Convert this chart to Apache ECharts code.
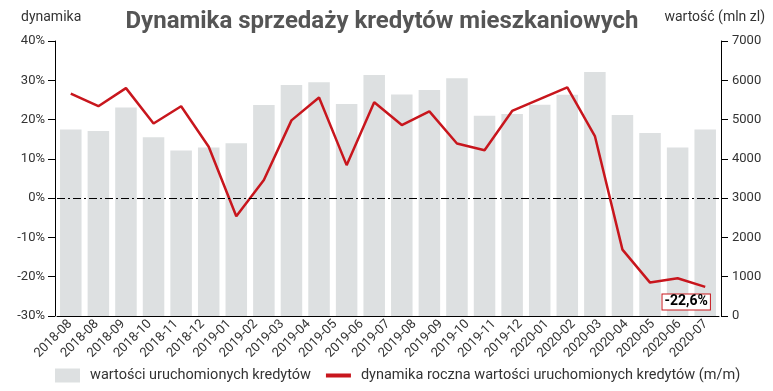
<!DOCTYPE html>
<html>
<head>
<meta charset="utf-8">
<script src="https://cdn.jsdelivr.net/npm/echarts@6/dist/echarts.min.js"></script>
<style>html,body{margin:0;padding:0;background:#fff}#c{width:773px;height:391px}</style>
</head>
<body>
<div id="c"></div>
<script>
const categories = ['2018-08','2018-09','2018-10','2018-11','2018-12','2019-01','2019-02','2019-03','2019-04','2019-05','2019-06','2019-07','2019-08','2019-09','2019-10','2019-11','2019-12','2020-01','2020-02','2020-03','2020-04','2020-05','2020-06','2020-07'];
const tickLabels = ['2018-08','2018-08','2018-09','2018-10','2018-11','2018-12','2019-01','2019-02','2019-03','2019-04','2019-05','2019-06','2019-07','2019-08','2019-09','2019-10','2019-11','2019-12','2020-01','2020-02','2020-03','2020-04','2020-05','2020-06','2020-07'];
const wartosc = [4750,4710,5310,4550,4210,4290,4395,5370,5880,5950,5395,6135,5640,5750,6050,5100,5140,5380,5635,6210,5115,4660,4290,4750];
const dynamika = [26.6,23.4,28.0,19.0,23.4,13.1,-4.6,4.6,19.8,25.6,8.4,24.4,18.6,22.1,13.9,12.2,22.2,25.2,28.2,15.8,-13.1,-21.5,-20.4,-22.6];
const barName = 'wartości uruchomionych kredytów';
const lineName = 'dynamika roczna wartości uruchomionych kredytów (m/m)';
const FONT = 'Roboto';
const last = dynamika.length - 1;

const chart = echarts.init(document.getElementById('c'), null, {renderer: 'canvas'});
chart.setOption({
  animation: false,
  textStyle: {fontFamily: FONT},
  title: {
    text: 'Dynamika sprzedaży kredytów mieszkaniowych',
    left: 377, top: 5, textAlign: 'center',
    textStyle: {fontFamily: FONT, fontSize: 24, fontWeight: 'bold', color: '#555'}
  },
  graphic: [
    {type: 'text', left: 21, top: 10, style: {text: 'dynamika', fontFamily: FONT, fontSize: 14, fill: '#333'}},
    {type: 'text', right: 8, top: 10, style: {text: 'wartość (mln zl)', fontFamily: FONT, fontSize: 14, fill: '#333'}}
  ],
  legend: {
    left: 55, top: 368, padding: 0, itemWidth: 25, itemHeight: 14, itemGap: 15,
    textStyle: {fontFamily: FONT, fontSize: 14.5, color: '#333', padding: [0, 0, 0, 5]},
    data: [
      {name: barName, icon: 'rect', itemStyle: {color: '#dde0e1'}},
      {name: lineName,
       icon: 'path://M0,0h0.01v0.01h-0.01z M0,5h25v4h-25z M24.99,14h0.01v0.01h-0.01z',
       itemStyle: {color: '#c8161d'}, lineStyle: {width: 0}}
    ]
  },
  grid: {left: 57, right: 54, top: 41, bottom: 75},
  xAxis: [
    {type: 'category', data: categories, axisLine: {onZero: false, lineStyle: {color: '#000', width: 1}},
     axisTick: {show: false}, axisLabel: {show: false}},
    {type: 'category', data: tickLabels, position: 'bottom', axisLine: {show: false, onZero: false},
     axisTick: {show: false},
     axisLabel: {interval: 0, rotate: 45, fontSize: 13, color: '#333', margin: 6, fontFamily: FONT}}
  ],
  yAxis: [
    {type: 'value', min: -30, max: 40, interval: 10, offset: 2,
     axisLine: {show: true, lineStyle: {color: '#000'}},
     axisTick: {show: true, length: 7, lineStyle: {color: '#000'}},
     axisLabel: {formatter: '{value}%', margin: 10, fontSize: 13, color: '#333', fontFamily: FONT},
     splitLine: {show: false}},
    {type: 'value', min: 0, max: 7000, interval: 1000, offset: 2, position: 'right',
     axisLine: {show: true, lineStyle: {color: '#000'}},
     axisTick: {show: true, length: 7, lineStyle: {color: '#000'}},
     axisLabel: {formatter: v => String(v), margin: 11, fontSize: 13, color: '#333', fontFamily: FONT},
     splitLine: {show: false}}
  ],
  series: [
    {name: barName, type: 'bar', xAxisIndex: 0, yAxisIndex: 1, data: wartosc,
     barCategoryGap: '22%', itemStyle: {color: '#dde0e1'}},
    {name: lineName, type: 'line', xAxisIndex: 0, yAxisIndex: 0, data: dynamika,
     symbol: 'none', lineStyle: {color: '#c8161d', width: 2.5}, itemStyle: {color: '#c8161d'},
     markLine: {silent: true, symbol: 'none', label: {show: false},
       lineStyle: {color: '#000', type: [8, 3, 2, 3], width: 1},
       data: [{yAxis: 0}]},
     markPoint: {silent: true, symbol: 'circle', symbolSize: 0,
       data: [{coord: [categories[last], dynamika[last]], value: dynamika[last]}],
       label: {show: true, position: 'inside', offset: [-19, 15],
         formatter: p => p.value.toFixed(1).replace('.', ',') + '%',
         backgroundColor: '#fff', borderColor: '#c8161d', borderWidth: 1,
         padding: [1, 2, 0, 2], fontWeight: 'bold', fontSize: 14, color: '#000', fontFamily: FONT}}}
  ]
});
</script>
</body>
</html>
